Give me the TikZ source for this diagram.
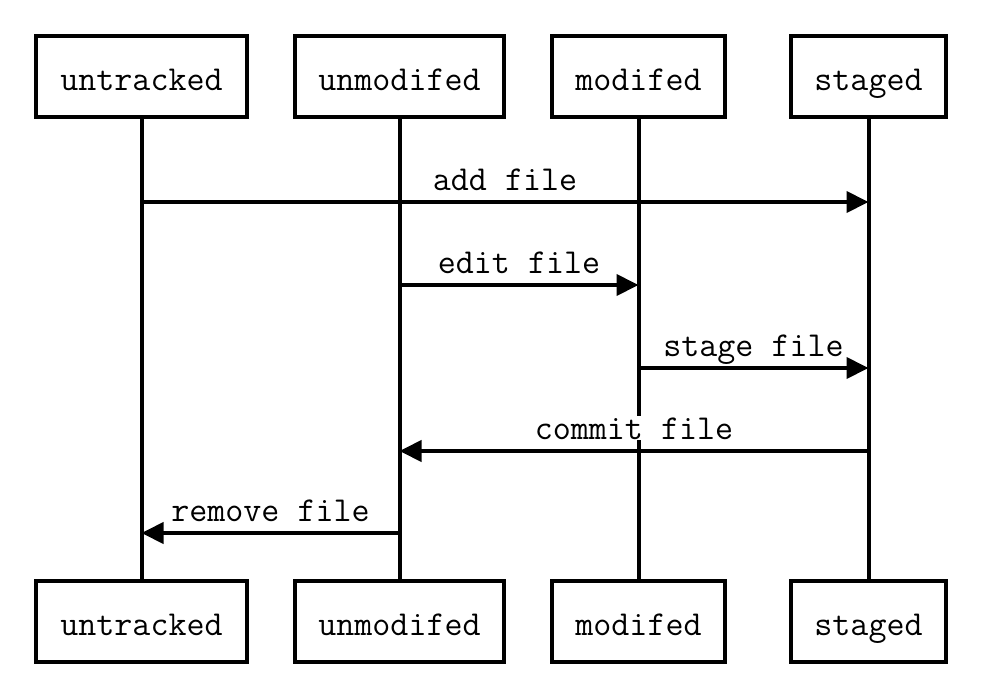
\documentclass[tikz,border=0pt]{standalone}
\usetikzlibrary{arrows.meta}
\begin{document}
\begin{tikzpicture}[x=1pt,y=-1pt,
  actor/.style={draw=black,line width=4pt,fill=white,minimum height=81pt,inner sep=0pt,
    text height=28pt,text depth=0pt,
    font=\fontsize{35}{40}\selectfont\ttfamily},
  life/.style={line width=4pt},
  msg/.style={line width=4pt,-{Triangle[length=22pt,width=21pt]}},
  lbl/.style={fill=white,inner sep=1pt,anchor=base,yshift=12pt,
    font=\fontsize{35}{40}\selectfont\ttfamily}]
\useasboundingbox[fill=white] (0,0) rectangle (1006,691);
% top
\node[actor,minimum width=211pt] (ut) at (141.5,76.5) {untracked};
\node[actor,minimum width=209pt] (um) at (399.5,76.5) {unmodifed};
\node[actor,minimum width=173pt] (mo) at (638.5,76.5) {modifed};
\node[actor,minimum width=155pt] (st) at (868.5,76.5) {staged};
% bottom
\node[actor,minimum width=211pt] (ub) at (141.5,621) {untracked};
\node[actor,minimum width=209pt] (umb) at (399.5,621) {unmodifed};
\node[actor,minimum width=173pt] (mob) at (638.5,621) {modifed};
\node[actor,minimum width=155pt] (stb) at (868.5,621) {staged};
% lifelines
\draw[life] (ut.south) -- (ub.north);
\draw[life] (um.south) -- (umb.north);
\draw[life] (mo.south) -- (mob.north);
\draw[life] (st.south) -- (stb.north);
% messages
\coordinate (a1) at (ut.south |- 0,202);
\coordinate (a2) at (st.south |- 0,202);
\draw[msg] (a1) -- (a2) node[lbl,pos=0.5] {add file};
\coordinate (b1) at (um.south |- 0,285);
\coordinate (b2) at (mo.south |- 0,285);
\draw[msg] (b1) -- (b2) node[lbl,pos=0.5] {edit file};
\coordinate (c1) at (mo.south |- 0,368);
\coordinate (c2) at (st.south |- 0,368);
\draw[msg] (c1) -- (c2) node[lbl,pos=0.5] {stage file};
\coordinate (d1) at (st.south |- 0,451);
\coordinate (d2) at (um.south |- 0,451);
\draw[msg] (d1) -- (d2) node[lbl,pos=0.5] {commit file};
\coordinate (e1) at (um.south |- 0,533);
\coordinate (e2) at (ut.south |- 0,533);
\draw[msg] (e1) -- (e2) node[lbl,pos=0.5] {remove file};
\end{tikzpicture}
\end{document}
